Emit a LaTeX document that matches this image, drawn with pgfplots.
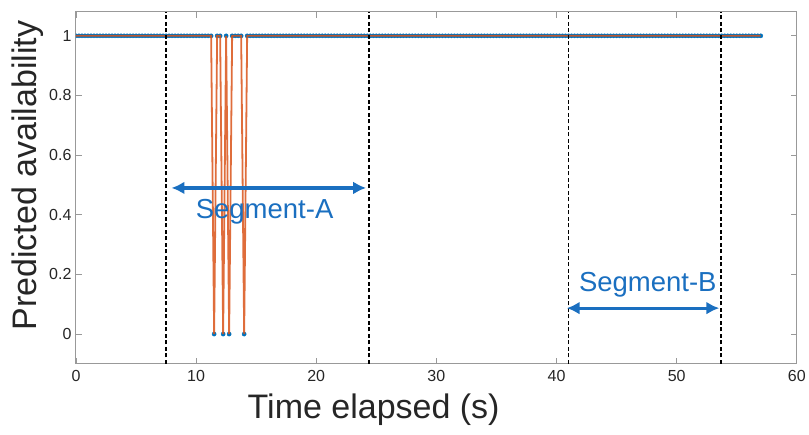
\documentclass[border=0pt]{standalone}
\usepackage{fontspec}
\setmainfont{Liberation Sans}
\usepackage{pgfplots}
\pgfplotsset{compat=1.18}
\usepackage{pgfplotstable}
\usetikzlibrary{arrows.meta}

\definecolor{mblue}{rgb}{0,0.447,0.741}
\definecolor{morange}{rgb}{0.85,0.325,0.098}
\definecolor{annblue}{HTML}{1A6FC0}

% sampled availability, 0.25 s steps
\pgfplotstableread[row sep=\\]{
t a\\
0 1\\0.25 1\\0.5 1\\0.75 1\\
1 1\\1.25 1\\1.5 1\\1.75 1\\
2 1\\2.25 1\\2.5 1\\2.75 1\\
3 1\\3.25 1\\3.5 1\\3.75 1\\
4 1\\4.25 1\\4.5 1\\4.75 1\\
5 1\\5.25 1\\5.5 1\\5.75 1\\
6 1\\6.25 1\\6.5 1\\6.75 1\\
7 1\\7.25 1\\7.5 1\\7.75 1\\
8 1\\8.25 1\\8.5 1\\8.75 1\\
9 1\\9.25 1\\9.5 1\\9.75 1\\
10 1\\10.25 1\\10.5 1\\10.75 1\\
11 1\\11.25 1\\11.5 0\\11.75 1\\
12 1\\12.25 0\\12.5 1\\12.75 0\\
13 1\\13.25 1\\13.5 1\\13.75 1\\
14 0\\14.25 1\\14.5 1\\14.75 1\\
15 1\\15.25 1\\15.5 1\\15.75 1\\
16 1\\16.25 1\\16.5 1\\16.75 1\\
17 1\\17.25 1\\17.5 1\\17.75 1\\
18 1\\18.25 1\\18.5 1\\18.75 1\\
19 1\\19.25 1\\19.5 1\\19.75 1\\
20 1\\20.25 1\\20.5 1\\20.75 1\\
21 1\\21.25 1\\21.5 1\\21.75 1\\
22 1\\22.25 1\\22.5 1\\22.75 1\\
23 1\\23.25 1\\23.5 1\\23.75 1\\
24 1\\24.25 1\\24.5 1\\24.75 1\\
25 1\\25.25 1\\25.5 1\\25.75 1\\
26 1\\26.25 1\\26.5 1\\26.75 1\\
27 1\\27.25 1\\27.5 1\\27.75 1\\
28 1\\28.25 1\\28.5 1\\28.75 1\\
29 1\\29.25 1\\29.5 1\\29.75 1\\
30 1\\30.25 1\\30.5 1\\30.75 1\\
31 1\\31.25 1\\31.5 1\\31.75 1\\
32 1\\32.25 1\\32.5 1\\32.75 1\\
33 1\\33.25 1\\33.5 1\\33.75 1\\
34 1\\34.25 1\\34.5 1\\34.75 1\\
35 1\\35.25 1\\35.5 1\\35.75 1\\
36 1\\36.25 1\\36.5 1\\36.75 1\\
37 1\\37.25 1\\37.5 1\\37.75 1\\
38 1\\38.25 1\\38.5 1\\38.75 1\\
39 1\\39.25 1\\39.5 1\\39.75 1\\
40 1\\40.25 1\\40.5 1\\40.75 1\\
41 1\\41.25 1\\41.5 1\\41.75 1\\
42 1\\42.25 1\\42.5 1\\42.75 1\\
43 1\\43.25 1\\43.5 1\\43.75 1\\
44 1\\44.25 1\\44.5 1\\44.75 1\\
45 1\\45.25 1\\45.5 1\\45.75 1\\
46 1\\46.25 1\\46.5 1\\46.75 1\\
47 1\\47.25 1\\47.5 1\\47.75 1\\
48 1\\48.25 1\\48.5 1\\48.75 1\\
49 1\\49.25 1\\49.5 1\\49.75 1\\
50 1\\50.25 1\\50.5 1\\50.75 1\\
51 1\\51.25 1\\51.5 1\\51.75 1\\
52 1\\52.25 1\\52.5 1\\52.75 1\\
53 1\\53.25 1\\53.5 1\\53.75 1\\
54 1\\54.25 1\\54.5 1\\54.75 1\\
55 1\\55.25 1\\55.5 1\\55.75 1\\
56 1\\56.25 1\\56.5 1\\56.75 1\\
57 1\\
}\avail

\begin{document}
\begin{tikzpicture}
  \begin{axis}[
      scale only axis,
      width=721pt, height=352pt,
      xmin=0, xmax=60, ymin=-0.1, ymax=1.08,
      clip marker paths=true,
      xtick={0,10,...,60},
      ytick={0,0.2,0.4,0.6,0.8,1},
      yticklabels={0,0.2,0.4,0.6,0.8,1},
      tick pos=both, tick align=inside,
      major tick length=6pt,
      axis line style={black!40, line width=1pt},
      every tick/.style={black!40, line width=0.8pt},
      /pgf/number format/assume math mode=true,
      ticklabel style={font=\fontsize{16}{18}\selectfont, text=black!85},
      xticklabel style={yshift=-3pt},
      yticklabel style={xshift=-1pt},
      xlabel={Time elapsed (s)},
      ylabel={Predicted availability},
      label style={font=\fontsize{34}{38}\selectfont, text=black!85},
      xlabel style={at={(axis description cs:0.413,-0.13)}, anchor=center},
      ylabel style={at={(axis description cs:-0.067,0.535)}, anchor=center},
    ]

    % predicted samples (dots) and connecting line
    \addplot[only marks, mark=*, mark size=2.1pt, color=mblue, mark options={draw=none, fill=mblue}]
      table[x=t, y=a] {\avail};
    \addplot[morange, line width=1.8pt, mark=none, opacity=0.85] table[x=t, y=a] {\avail};

    % segment boundaries
    \addplot[black, line width=1.8pt, dash pattern=on 4pt off 2.5pt] coordinates {(7.5,-0.1) (7.5,1.08)};
    \addplot[black, line width=1.8pt, dash pattern=on 4pt off 2.5pt] coordinates {(24.4,-0.1) (24.4,1.08)};
    \addplot[black, line width=1.8pt, dash pattern=on 4pt off 2.5pt] coordinates {(41.0,-0.1) (41.0,1.08)};
    \addplot[black, line width=1.8pt, dash pattern=on 4pt off 2.5pt] coordinates {(53.7,-0.1) (53.7,1.08)};

    % segment arrows
    \addplot[annblue, line width=3.2pt, {Latex[length=13pt,width=13pt]}-{Latex[length=13pt,width=13pt]}] coordinates {(7.95,0.49) (24.15,0.49)};
    \addplot[annblue, line width=3.2pt, {Latex[length=13pt,width=13pt]}-{Latex[length=13pt,width=13pt]}] coordinates {(40.85,0.087) (53.55,0.087)};

    \node[text=annblue, font=\fontsize{27.5}{30}\selectfont] at (axis cs:15.7,0.41) {Segment-A};
    \node[text=annblue, font=\fontsize{27.5}{30}\selectfont] at (axis cs:47.6,0.167) {Segment-B};
  \end{axis}
  \path (-76pt,-71pt) rectangle (733pt,364pt);
\end{tikzpicture}
\end{document}
